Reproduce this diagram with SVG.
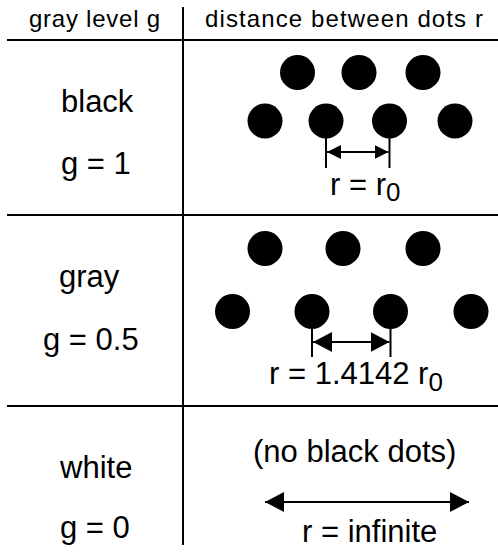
<svg xmlns="http://www.w3.org/2000/svg" width="498" height="552" viewBox="0 0 498 552">
<style>
.t{font-family:"Liberation Sans",Arial,Helvetica,sans-serif;fill:#000}
.h{font-size:24px}
.b{font-size:31px}
.s{font-size:26px}
.rule{stroke:#000;stroke-width:2;fill:none}
.dot{fill:#000}
.dim{stroke:#000;stroke-width:2;fill:none}
</style>
<defs>
<marker id="aS" markerUnits="userSpaceOnUse" markerWidth="14" markerHeight="14" refX="14" refY="7" orient="auto-start-reverse"><path d="M0,0 L14,7 L0,14 z" fill="#000"/></marker>
<marker id="aL" markerUnits="userSpaceOnUse" markerWidth="19" markerHeight="20" refX="19" refY="10" orient="auto-start-reverse"><path d="M0,0 L19,10 L0,20 z" fill="#000"/></marker>
</defs>
<rect width="498" height="552" fill="#fff"/>
<g id="table">
<line class="rule" x1="183" y1="7" x2="183" y2="545"/>
<line class="rule" x1="7" y1="40" x2="498" y2="40"/>
<line class="rule" x1="7" y1="215" x2="498" y2="215"/>
<line class="rule" x1="7" y1="406" x2="498" y2="406"/>
</g>
<g id="header">
<text class="t h" x="29" y="27" textLength="131">gray level g</text>
<text class="t h" x="205" y="27" textLength="278">distance between dots r</text>
</g>
<g id="row-black">
<text class="t b" x="61" y="112">black</text>
<text class="t b" x="61" y="174">g = 1</text>
<circle class="dot" cx="297.5" cy="72.5" r="17.5"/>
<circle class="dot" cx="359" cy="72.5" r="17.5"/>
<circle class="dot" cx="423" cy="72.5" r="17.5"/>
<circle class="dot" cx="265" cy="121" r="17.5"/>
<circle class="dot" cx="326" cy="121" r="17.5"/>
<circle class="dot" cx="389.5" cy="121" r="17.5"/>
<circle class="dot" cx="455" cy="121" r="17.5"/>
<text class="t b" x="330" y="195">r = r<tspan class="s" dy="6">0</tspan></text>
</g>
<g id="row-gray">
<text class="t b" x="59" y="287">gray</text>
<text class="t b" x="43" y="350">g = 0.5</text>
<circle class="dot" cx="265" cy="248.5" r="17.5"/>
<circle class="dot" cx="343" cy="248.5" r="17.5"/>
<circle class="dot" cx="423" cy="248.5" r="17.5"/>
<circle class="dot" cx="232.5" cy="311.5" r="17.5"/>
<circle class="dot" cx="312" cy="311.5" r="17.5"/>
<circle class="dot" cx="390.5" cy="311.5" r="17.5"/>
<circle class="dot" cx="471" cy="311.5" r="17.5"/>
<text class="t b" x="269" y="384">r = 1.4142 r<tspan class="s" dy="7">0</tspan></text>
</g>
<g id="row-white">
<text class="t b" x="60" y="478">white</text>
<text class="t b" x="60" y="538">g = 0</text>
<text class="t b" x="253" y="462">(no black dots)</text>
<text class="t b" x="302" y="542">r = infinite</text>
</g>
<g id="connectors">
<line class="dim" x1="326" y1="121" x2="326" y2="168"/>
<line class="dim" x1="389.5" y1="121" x2="389.5" y2="168"/>
<line class="dim" x1="327" y1="152" x2="388.5" y2="152" marker-start="url(#aS)" marker-end="url(#aS)"/>
<line class="dim" x1="312" y1="311.5" x2="312" y2="357"/>
<line class="dim" x1="390.5" y1="311.5" x2="390.5" y2="357"/>
<line class="dim" x1="313" y1="342" x2="389.5" y2="342" marker-start="url(#aL)" marker-end="url(#aL)"/>
<line class="dim" x1="265" y1="502" x2="469" y2="502" marker-start="url(#aL)" marker-end="url(#aL)"/>
</g>
</svg>
